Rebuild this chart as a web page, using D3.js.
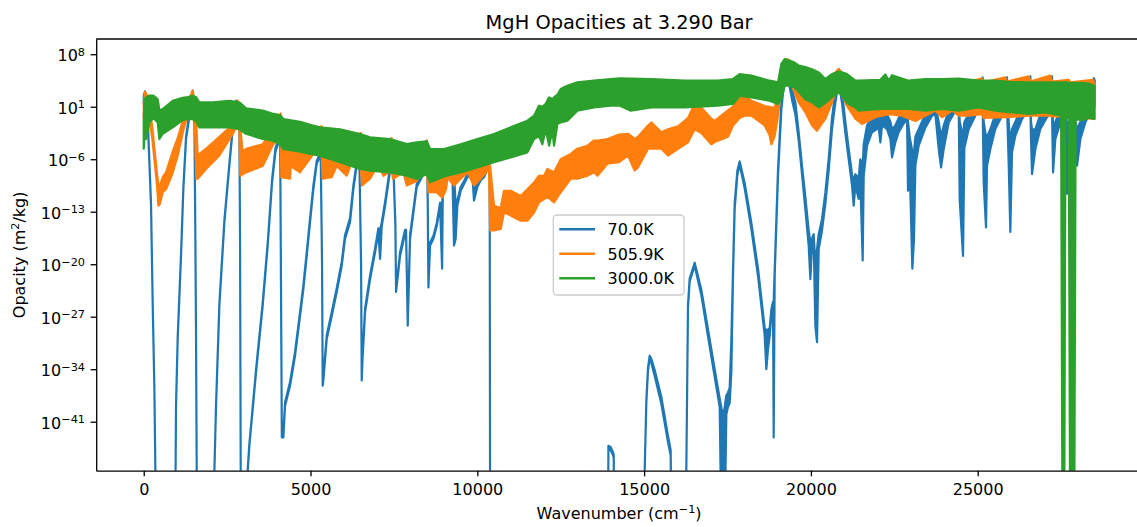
<!DOCTYPE html>
<html>
<head>
<meta charset="utf-8">
<script src="https://cdn.jsdelivr.net/npm/d3@7"></script>
<style>
  html, body { margin: 0; padding: 0; background: #ffffff; }
  svg { display: block; font-family: "DejaVu Sans", sans-serif; }
</style>
</head>
<body>
<svg id="chart" width="1137" height="527"></svg>
<script>
// MgH opacity spectra at 3.290 bar for three temperatures.
// Each entry: [wavenumber (cm^-1), log10 lower envelope, log10 upper envelope] of opacity in m^2/kg.
// Dense line forests are stored as their envelope; isolated lines have equal bounds.

const seriesLabels = ["70.0K", "505.9K", "3000.0K"];
const seriesColors = ["#1f77b4", "#ff7f0e", "#2ca02c"];

const opacity70K = [
  [0, 1.5, 2.5], [40, 2.6, 3.05], [80, 1.2, 2.0], [119, -0.8, -0.4], [219, -12.2, -12.0],
  [269, -25.5, -25.3], [319, -36.6, -36.4], [349, -47.6, -47.4], [365, -60, -60],
  [935, -60, -60], [968, -38.9, -38.7], [1018, -30, -29.7], [1118, -18.9, -18.6],
  [1188, -10, -9.7], [1268, -3.3, -3.0], [1348, -0.9, -0.5], [1468, 2.6, 3.14],
  [1518, -0.8, -0.4], [1548, -16.6, -16.4], [1568, -30, -29.8], [1588, -47.6, -47.4],
  [1600, -60, -60], [2100, -60, -60], [2118, -47.6, -47.4], [2168, -38.9, -38.6],
  [2268, -25.5, -25.2], [2418, -14.4, -14.1], [2568, -6.8, -6.5], [2668, -2.0, -1.7],
  [2767, 1.4, 1.81], [2867, -2.0, -1.7], [2887, -16.6, -16.4], [2907, -47.6, -47.4],
  [2920, -60, -60], [3100, -60, -60], [3117, -47.6, -47.3], [3167, -44.2, -43.9],
  [3367, -34.4, -34.0], [3567, -25.5, -25.1], [3717, -17.5, -17.1], [3847, -9.1, -8.7],
  [3950, -5.0, -4.5], [4040, -3.8, -3.4], [4090, -3.7, -3.4], [4140, -43.1, -42.8],
  [4186, -43.1, -42.6], [4236, -38.9, -38.4], [4386, -36.2, -35.7], [4536, -32.2, -31.7],
  [4686, -26.9, -26.4], [4786, -23.3, -22.8], [4886, -18.9, -18.4], [4986, -14.4, -13.9],
  [5086, -9.97, -9.5], [5186, -6.6, -6.2], [5305, -5.4, -5.1], [5345, -20, -19.7],
  [5365, -36.2, -35.9], [5385, -35.5, -35], [5485, -30, -29.5], [5635, -26.9, -26.4],
  [5785, -23.7, -23.2], [5935, -20.2, -19.7], [6035, -16.6, -16.1], [6185, -14.4, -13.8],
  [6285, -9.97, -9.5], [6385, -6.8, -6.4], [6465, -6.4, -6.1], [6515, -20, -19.7],
  [6535, -35.5, -35.2], [6555, -33, -32.5], [6635, -26.4, -25.9], [6785, -22, -21.5],
  [6935, -18.4, -17.9], [7035, -15.7, -15.2], [7085, -19.3, -15.5], [7135, -14.9, -14.4],
  [7235, -12.2, -11.7], [7384, -7.5, -7.1], [7484, -7.2, -6.9], [7544, -15, -14.7],
  [7564, -23.7, -23.4], [7684, -18.9, -18.4], [7834, -15.9, -15.4], [7864, -15.7, -15.4],
  [7914, -28.2, -27.9], [7984, -16.6, -16.1], [8184, -9.7, -9.3], [8334, -8.4, -8.0],
  [8434, -7.7, -7.2], [8484, -4.0, -3.55], [8514, -12, -11.7], [8534, -23.1, -22.8],
  [8584, -17.5, -17.1], [8684, -16.6, -16.2], [8784, -14.9, -14.5], [8884, -12.2, -11.8],
  [8944, -20.6, -12], [8964, -11, -10.6], [9064, -9.5, -9.1], [9102, -7.9, -7.3],
  [9251, -7.7, -7.3], [9301, -17.5, -8], [9351, -16.6, -12], [9401, -12.2, -11.5],
  [9501, -10.2, -9.7], [9601, -9.3, -8.9], [9701, -8.4, -8.0], [9851, -8.2, -7.8],
  [9901, -11.5, -8.5], [10001, -9.7, -9.2], [10101, -8.8, -8.4], [10201, -8.4, -8.0],
  [10301, -7.3, -6.9], [10370, -7.5, -7.0], [10385, -60, -60], [13915, -60, -60],
  [13930, -44.6, -44.2], [14000, -44.8, -44.4], [14060, -45.4, -45.0], [14090, -45.8, -45.4],
  [14100, -60, -60], [14990, -60, -60], [15017, -47.6, -47.4], [15067, -38.4, -38],
  [15117, -34.2, -33.8], [15167, -32.5, -32.2], [15217, -33.2, -32.6], [15317, -34.9, -34.1],
  [15516, -38.6, -37.7], [15716, -43.7, -42.9], [15796, -45.5, -44.8], [15830, -60, -60],
  [16240, -60, -60], [16265, -47.6, -47.4], [16315, -25.8, -25.4], [16365, -22.3, -21.9],
  [16515, -20.2, -19.8], [16715, -24.1, -23.4], [16915, -29.6, -28.7], [17115, -35.0, -34.0],
  [17265, -39, -37.9], [17330, -60, -39.5], [17400, -60, -39.5], [17465, -40, -37.5],
  [17515, -39, -37.1], [17565, -38.5, -36.5], [17615, -34.4, -30], [17665, -21.5, -20.7],
  [17715, -12.6, -11.8], [17795, -8.1, -7.5], [17865, -6.7, -6.3], [18015, -9.9, -9.2],
  [18215, -15.3, -14.5], [18415, -21.6, -20.6], [18614, -29.5, -28.5], [18664, -34, -28.8],
  [18714, -31.3, -28.7], [18764, -29.6, -28.5], [18814, -26.8, -26.0], [18864, -26, -25],
  [18884, -43.1, -25], [18914, -21.5, -20.7], [19014, -8.2, -7.3], [19114, 0.6, 1.6],
  [19214, 5.0, 6.0], [19270, 6.6, 7.2], [19364, 3.6, 4.6], [19450, 1.6, 3.0],
  [19533, 0, 1.6], [19633, -3.5, -2.4], [19733, -8, -6.9], [19833, -12.7, -11],
  [19933, -17.5, -15.5], [19983, -22, -17], [20033, -17.5, -16.6], [20083, -17, -16],
  [20133, -28.2, -20], [20183, -30.4, -18], [20233, -18, -16], [20332, -15.5, -14],
  [20432, -12, -10.5], [20532, -7.5, -6], [20632, -2, -0.5], [20732, 1.5, 3.0],
  [20832, 4.5, 6.03], [20932, 1.5, 3.0], [21032, -2.5, -1.0], [21132, -6, -4.6],
  [21232, -9.5, -8], [21282, -12.2, -9], [21332, -9.5, -8], [21432, -11.3, -8.5],
  [21482, -9, -6], [21552, -19.5, -7], [21582, -8.2, -4], [21682, -4.2, -1.5],
  [21832, -2.4, -0.5], [22032, -1.8, 0], [22082, -3.75, -0.5], [22132, -1.5, 0],
  [22282, -2.0, 0], [22382, -3.3, -1], [22432, -5.75, -2], [22532, -3.75, -1.5],
  [22632, -2.4, -0.5], [22731, -1.6, 0.3], [22881, -0.6, 0.8], [22911, -10.2, -1],
  [22961, -7, -3], [23041, -20.6, -5], [23091, -16.6, -5], [23131, -6.86, -3],
  [23231, -4.2, -2], [23431, -1.8, 0], [23631, -0.2, 1.0], [23731, 0, 1.2],
  [23831, -4.64, -1], [23901, -7.1, -3], [23981, -4.64, -1.5], [24131, -1.1, 0.5],
  [24331, 0.47, 1.5], [24431, 0.7, 2], [24461, -11.5, -1], [24560, -18.9, -3],
  [24600, -4.5, -1], [24729, -2.0, 0], [24929, -0.19, 1], [25079, 0.7, 2.5],
  [25149, 1.1, 4.9], [25179, -9.08, -1], [25249, -15.1, -3], [25279, -6.86, -3],
  [25379, -4.64, -2], [25528, -1.97, 0], [25728, -0.19, 1.5], [25828, 0.7, 3],
  [25878, 1, 4.92], [25928, -6.41, -1], [25978, -15.7, -4], [26028, -5.08, -2],
  [26128, -2.86, -1], [26328, -0.64, 1], [26528, 0.7, 3], [26578, 1, 5.05],
  [26598, -3.3, -1], [26628, -7.97, -2], [26728, -4.64, -2], [26878, -1.97, 0],
  [27078, -0.41, 1], [27228, 0.25, 5.05], [27258, -7.75, -2], [27328, -3.3, -1],
  [27478, -1.08, 0.5], [27628, -0.8, 1], [27678, -10.6, -2], [27728, -3.3, -1],
  [27878, -1.5, 0], [27978, -6.86, -2], [28078, -3.3, -1], [28228, -1.08, 0.5],
  [28400, 0.5, 2.5], [28480, 1, 4.8], [28508, 1, 4.5]
];

const opacity506K = [
  [0, -0.5, 1.5], [40, 0.5, 3.0], [100, 0.0, 2.5], [169, -0.6, 0.8], [250, -3.0, -1.5],
  [330, -6.5, -5.0], [400, -9.5, -8.0], [440, -12.2, -9.5], [480, -12.0, -9.6],
  [569, -10.4, -8.4], [668, -10.0, -7.75], [868, -7.8, -5.0], [1018, -5.5, -3.2],
  [1168, -2.5, -0.9], [1268, -0.8, 0.2], [1318, -0.6, 1.5], [1468, -0.6, 3.14],
  [1530, -0.9, 1.5], [1575, -8.6, -1.0], [1618, -8.6, -5.5], [1868, -7.3, -4.6],
  [2268, -5.5, -3.0], [2618, -3.0, -1.6], [2767, -1.8, 1.0], [2817, -1.5, 1.81],
  [2867, -2.0, 0.5], [2897, -8.2, -2.0], [2967, -8.0, -5.0], [3067, -7.75, -4.6],
  [3567, -6.9, -4.0], [3847, -4.3, -2.0], [3950, -3.6, -1.5], [4066, -3.3, -0.5],
  [4106, -3.3, 0.1], [4126, -8.4, -2.0], [4386, -8.6, -3.0], [4406, -6.9, -3.0],
  [4686, -7.75, -3.0], [4786, -7.1, -2.5], [5086, -5.3, -2.2], [5335, -5.5, -1.6],
  [5365, -8.6, -3.0], [5635, -8.4, -3.2], [5785, -6.9, -3.0], [6085, -8.2, -3.3],
  [6235, -6.4, -3.2], [6505, -6.6, -2.5], [6545, -9.5, -3.5], [6785, -8.6, -3.8],
  [7035, -6.6, -3.8], [7185, -8.2, -4.0], [7434, -7.5, -3.2], [7474, -8.6, -4.3],
  [7784, -7.75, -4.3], [7884, -9.5, -4.5], [8184, -8.9, -4.5], [8384, -7.5, -4.0],
  [8484, -7.5, -3.5], [8534, -10.4, -5.0], [8784, -10.4, -5.0], [8944, -11.1, -5.0],
  [9064, -10.0, -5.0], [9102, -8.4, -5.5], [9301, -9.5, -5.5], [9501, -8.6, -5.5],
  [9701, -7.75, -5.3], [9901, -9.5, -5.5], [10101, -8.6, -5.3], [10301, -7.5, -5.5],
  [10350, -7.5, -6.0], [10385, -15.5, -7.0], [10500, -15.5, -12.2], [10700, -15.3, -12.5],
  [10800, -13.1, -10.2], [11000, -13.5, -10.2], [11300, -14.2, -10.9], [11500, -14.2, -10.0],
  [11700, -13.1, -9.1], [11850, -11.75, -8.2], [12000, -11.3, -8.2], [12100, -11.0, -7.3],
  [12300, -11.75, -7.75], [12500, -10.4, -6.0], [12800, -8.6, -5.3], [13000, -8.6, -4.6],
  [13300, -8.2, -4.2], [13500, -7.75, -3.5], [13600, -8.2, -3.5], [13900, -6.6, -3.3],
  [14250, -6.4, -2.7], [14518, -5.5, -2.6], [14717, -7.5, -3.3], [14817, -7.1, -3.0],
  [15117, -4.6, -1.5], [15217, -4.6, -1.1], [15516, -4.6, -2.4], [15716, -5.5, -2.0],
  [16016, -4.6, -1.6], [16315, -3.75, -0.5], [16515, -2.0, 1.36], [16715, -2.5, 0.9],
  [17015, -4.0, -0.6], [17115, -3.7, -0.9], [17515, -3.0, 0.5], [17665, -1.5, 1.0],
  [17865, -0.5, 2.5], [18015, -0.2, 2.5], [18215, -0.2, 1.8], [18614, -1.5, 1.1],
  [18764, -2.8, 1.0], [18814, -4.0, 0.9], [18914, -2.9, 0.9], [19014, -0.2, 2.9],
  [19114, 3.4, 6.5], [19264, 5.1, 7.36], [19364, 4.5, 7.2], [19433, 3.8, 6.5],
  [19633, 1.6, 5.0], [19833, 0.25, 4.0], [20033, -1.5, 3.0], [20183, -2.2, 2.5],
  [20432, -0.6, 3.5], [20632, 1.6, 5.0], [20782, 3.4, 5.8], [20832, 3.0, 6.03],
  [20882, 3.1, 5.8], [21082, 1.1, 4.5], [21332, -0.6, 3.5], [21532, -1.3, 3.0],
  [21932, -0.4, 3.5], [22332, 0.0, 3.5], [22731, -0.2, 3.5], [23131, -0.9, 3.5],
  [23431, -0.2, 3.5], [23731, 0.5, 3.8], [23931, -0.4, 3.8], [24231, 0.5, 4.0],
  [24431, -0.2, 4.0], [24711, -0.2, 4.3], [25129, 0.0, 4.79], [25179, -0.5, 4.25],
  [25828, -0.4, 4.92], [25878, -0.4, 4.35], [26528, -0.2, 5.05], [26578, -0.2, 4.35],
  [27178, -0.2, 5.14], [27228, -0.3, 4.35], [27728, -0.3, 4.6], [27778, -0.4, 4.25],
  [28450, -0.6, 4.6], [28500, -0.6, 4.0]
];

const opacity3000K = [
  [0, -4.6, -1.0], [20, -3.3, 2.0], [69, -3.3, 2.25], [169, -1.1, 2.5], [269, -0.6, 2.5],
  [319, -0.64, 2.4], [419, -1.1, 2.0], [469, -3.3, 0.5], [569, -2.6, 0.7], [868, -1.75, 1.8],
  [1168, -0.8, 2.2], [1318, -0.64, 2.3], [1468, -0.64, 2.47], [1568, -1.0, 2.3],
  [1668, -1.75, 1.6], [2068, -1.75, 1.6], [2568, -1.75, 1.8], [2867, -2.0, 1.6],
  [3067, -2.6, 0.8], [3567, -3.3, 0.5], [3847, -3.5, 0.1], [4086, -4.0, -0.1],
  [4186, -4.64, -0.64], [4686, -5.0, -1.0], [4986, -5.3, -1.4], [5285, -5.53, -1.75],
  [5885, -6.41, -2.0], [6485, -7.3, -2.64], [6785, -7.53, -3.08], [7384, -7.75, -3.3],
  [7884, -8.19, -3.97], [8184, -8.64, -3.75], [8484, -7.97, -3.6], [8584, -9.08, -4.64],
  [9002, -8.3, -4.64], [9501, -7.75, -4.0], [10001, -7.1, -3.3], [10500, -6.41, -2.64],
  [11000, -5.75, -1.75], [11500, -5.08, -0.86], [11700, -3.3, -0.19], [11850, -2.9, 1.14],
  [11950, -4.0, 1.0], [12050, -2.0, 1.4], [12150, -4.19, 2.25], [12250, -2.2, 2.0],
  [12300, -4.19, 2.25], [12400, -1.3, 2.6], [12500, -1.08, 3.36], [12700, -0.86, 3.8],
  [13000, 0.47, 4.25], [13500, 0.92, 4.47], [14000, 1.14, 4.7], [14279, 1.14, 4.79],
  [14600, 0.47, 4.75], [15217, 0.92, 4.7], [16216, 0.92, 4.47], [17215, 1.14, 4.47],
  [17665, 1.36, 4.7], [17865, 2.47, 5.36], [18215, 2.25, 5.14], [18764, 1.81, 4.47],
  [19014, 1.36, 4.25], [19114, 2.03, 6.7], [19214, 3.8, 7.36], [19364, 3.8, 7.14],
  [19494, 3.6, 6.92], [19633, 3.0, 6.5], [19833, 2.0, 6.3], [20033, 1.59, 6.0],
  [20233, 0.9, 5.58], [20432, 1.5, 4.7], [20632, 2.25, 5.36], [20832, 2.9, 5.7],
  [20932, 2.5, 5.6], [21082, 1.5, 5.36], [21332, 0.9, 4.47], [21432, 0.47, 4.5],
  [22082, 0.7, 4.6], [22232, 0.7, 5.3], [22332, 0.7, 4.5], [22432, 0.7, 5.2],
  [22931, 0.7, 4.47], [23431, 0.47, 4.7], [23931, 0.7, 4.7], [24431, 0.47, 4.75],
  [25029, 0.92, 4.5], [25528, 0.47, 4.47], [26028, 0.25, 4.3], [26528, 0.03, 4.25],
  [27028, 0.25, 4.25], [27500, -0.2, 4.25], [27545, -60, 4.25], [27590, -60, 4.25],
  [27630, -0.5, 4.25], [27730, -0.5, 4.2], [27775, -60, 4.2], [27890, -60, 4.2],
  [27935, -0.7, 4.2], [28128, -0.75, 4.2], [28328, -0.5, 4.1], [28500, -0.64, 3.8]
];

const xTickValues = [0, 5000, 10000, 15000, 20000, 25000];
const yTickExponents = [8, 1, -6, -13, -20, -27, -34, -41];

const chartTitle = "MgH Opacities at 3.290 Bar";

// ---- layout ----
const plot = { left: 96.2, right: 1142, top: 39, bottom: 470.7 };
const svg = d3.select("#chart");

const x = d3.scaleLinear().domain([-1425, 29925]).range([plot.left, plot.right]);
const y = d3.scaleLog().domain([Math.pow(10, -47.53), Math.pow(10, 10.03)]).range([plot.bottom, plot.top]);

svg.append("defs").append("clipPath").attr("id", "plot-clip")
  .append("rect")
  .attr("x", plot.left).attr("y", plot.top)
  .attr("width", plot.right - plot.left).attr("height", plot.bottom - plot.top);

// ---- spectra ----
const band = d3.area()
  .x(d => x(d[0]))
  .y0(d => y(Math.pow(10, d[1])))
  .y1(d => y(Math.pow(10, d[2])));

const marks = svg.append("g").attr("clip-path", "url(#plot-clip)");
[opacity70K, opacity506K, opacity3000K].forEach((series, i) => {
  marks.append("path")
    .datum(series)
    .attr("d", band)
    .attr("fill", seriesColors[i])
    .attr("stroke", seriesColors[i])
    .attr("stroke-width", 2.2)
    .attr("stroke-linejoin", "round");
});

// ---- axes ----
const tickLen = 5.6, tickPad = 5.6, fontSize = 16;

const xAxis = d3.axisBottom(x)
  .tickValues(xTickValues)
  .tickSize(tickLen).tickSizeOuter(0).tickPadding(tickPad + 1.4)
  .tickFormat(d3.format("d"));
const gx = svg.append("g").attr("transform", `translate(0,${plot.bottom})`).call(xAxis);
gx.selectAll("text").attr("font-size", fontSize).attr("font-family", "DejaVu Sans").attr("fill", "#000");

const yAxis = d3.axisLeft(y)
  .tickValues(yTickExponents.map(e => Math.pow(10, e)))
  .tickSize(tickLen).tickSizeOuter(0).tickPadding(tickPad)
  .tickFormat(() => "");
const gy = svg.append("g").attr("transform", `translate(${plot.left},0)`).call(yAxis);
gy.selectAll(".tick").each(function (d, i) {
  const t = d3.select(this).select("text");
  t.text(null)
    .attr("font-size", fontSize)
    .attr("font-family", "DejaVu Sans")
    .attr("fill", "#000")
    .attr("dy", 6.3);
  t.append("tspan").text("10");
  const e = yTickExponents[i];
  t.append("tspan")
    .attr("dy", -5.5)
    .attr("font-size", 11.3)
    .text(e < 0 ? "\u2212" + Math.abs(e) : String(e));
});

[gx, gy].forEach(g => {
  g.select(".domain").attr("stroke", "#000").attr("stroke-width", 1.3);
  g.selectAll(".tick line").attr("stroke", "#000").attr("stroke-width", 1.3);
});

// top spine
svg.append("line")
  .attr("x1", plot.left).attr("x2", plot.right)
  .attr("y1", plot.top).attr("y2", plot.top)
  .attr("stroke", "#000").attr("stroke-width", 1.3);
// right spine
svg.append("line")
  .attr("x1", plot.right).attr("x2", plot.right)
  .attr("y1", plot.top).attr("y2", plot.bottom)
  .attr("stroke", "#000").attr("stroke-width", 1.3);

// ---- titles ----
const cx = (plot.left + plot.right) / 2;
svg.append("text")
  .attr("x", cx).attr("y", 28.7)
  .attr("text-anchor", "middle")
  .attr("font-size", 19.4)
  .text(chartTitle);

const xl = svg.append("text")
  .attr("x", cx).attr("y", 518.5)
  .attr("text-anchor", "middle")
  .attr("font-size", fontSize);
xl.append("tspan").text("Wavenumber (cm");
xl.append("tspan").attr("dy", -6).attr("font-size", 11.3).text("\u22121");
xl.append("tspan").attr("dy", 6).text(")");

const yl = svg.append("text")
  .attr("transform", `translate(25,${(plot.top + plot.bottom) / 2}) rotate(-90)`)
  .attr("text-anchor", "middle")
  .attr("font-size", fontSize);
yl.append("tspan").text("Opacity (m");
yl.append("tspan").attr("dy", -6).attr("font-size", 11.3).text("2");
yl.append("tspan").attr("dy", 6).text("/kg)");

// ---- legend ----
const legend = svg.append("g");
legend.append("rect")
  .attr("x", 553.3).attr("y", 215)
  .attr("width", 130.7).attr("height", 80)
  .attr("rx", 3.5)
  .attr("fill", "#ffffff").attr("fill-opacity", 0.8)
  .attr("stroke", "#cccccc").attr("stroke-width", 1.3);
seriesLabels.forEach((label, i) => {
  const ly = 229.3 + i * 24.5;
  legend.append("line")
    .attr("x1", 559.3).attr("x2", 595)
    .attr("y1", ly).attr("y2", ly)
    .attr("stroke", seriesColors[i]).attr("stroke-width", 2.4);
  legend.append("text")
    .attr("x", 607.5).attr("y", ly + 5.8)
    .attr("font-size", fontSize)
    .text(label);
});
</script>
</body>
</html>
